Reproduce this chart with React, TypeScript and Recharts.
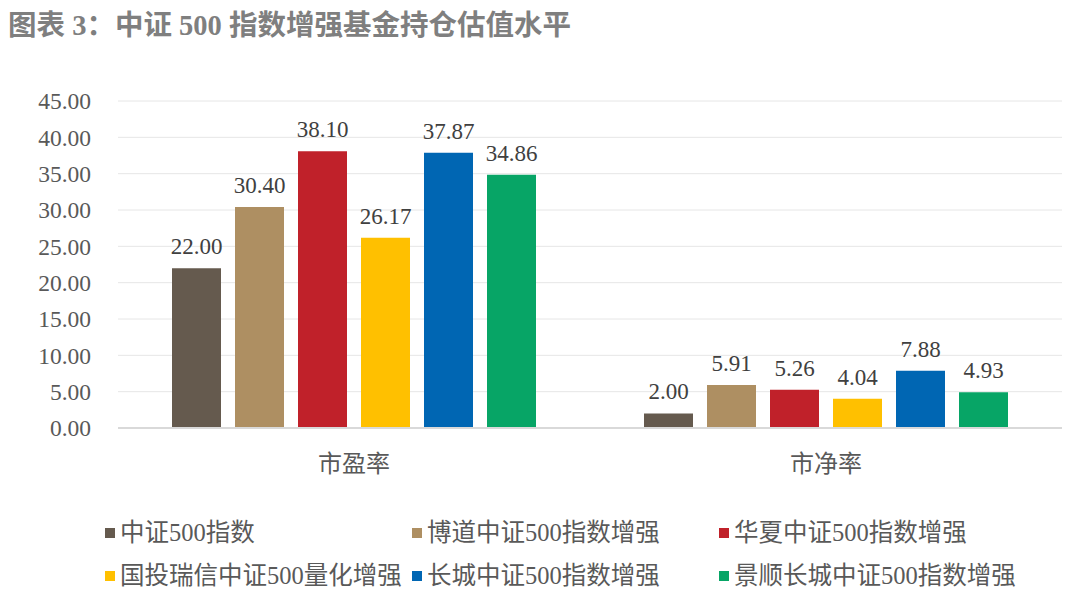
import { Bar, BarChart, CartesianGrid, LabelList, XAxis, YAxis } from "recharts";

const categories = ["市盈率", "市净率"];
const seriesNames = [
  "中证500指数",
  "博道中证500指数增强",
  "华夏中证500指数增强",
  "国投瑞信中证500量化增强",
  "长城中证500指数增强",
  "景顺长城中证500指数增强",
];
const csi500 = [22.0, 2.0];
const bodao = [30.4, 5.91];
const huaxia = [38.1, 5.26];
const guotou = [26.17, 4.04];
const changcheng = [37.87, 7.88];
const jingshun = [34.86, 4.93];
const yTicks = [0, 5, 10, 15, 20, 25, 30, 35, 40, 45];

const seriesValues = [csi500, bodao, huaxia, guotou, changcheng, jingshun];
const colors = ["#655A4E", "#AE8F62", "#C0212A", "#FFC000", "#0066B3", "#07A566"];

const data = categories.map((name, i) => {
  const row: Record<string, string | number> = { name };
  seriesNames.forEach((s, j) => {
    row[s] = seriesValues[j][i];
  });
  return row;
});

const font = '"Liberation Serif", "Noto Sans CJK SC", serif';

export default function App() {
  return (
    <div
      style={{
        position: "absolute",
        left: 0,
        top: 0,
        width: 1079,
        height: 609,
        background: "#fff",
        fontFamily: font,
      }}
    >
      <div
        style={{
          position: "absolute",
          left: 8,
          top: 9,
          fontSize: 28.5,
          fontWeight: "bold",
          color: "#7F7F7F",
          lineHeight: "34px",
          whiteSpace: "nowrap",
        }}
      >
        图表 3：中证 500 指数增强基金持仓估值水平
      </div>
      <BarChart
        width={1079}
        height={500}
        data={data}
        margin={{ top: 101, right: 17, left: 0, bottom: 0 }}
        barCategoryGap={54}
        barGap={14}
        style={{ position: "absolute", left: 0, top: 0 }}
      >
        <CartesianGrid vertical={false} stroke="#E6E6E6" />
        <XAxis
          dataKey="name"
          height={72}
          tickLine={false}
          tickSize={0}
          tickMargin={27}
          axisLine={{ stroke: "#D9D9D9", strokeWidth: 2 }}
          tick={{ fill: "#595959", fontSize: 24, fontFamily: font }}
        />
        <YAxis
          width={118}
          domain={[0, 45]}
          ticks={yTicks}
          interval={0}
          tickFormatter={(v: number) => v.toFixed(2)}
          axisLine={false}
          tickLine={false}
          tickSize={0}
          tickMargin={27}
          tick={{ fill: "#595959", fontSize: 23.5, fontFamily: font }}
        />
        {seriesNames.map((s, j) => (
          <Bar key={s} dataKey={s} fill={colors[j]} isAnimationActive={false}>
            <LabelList
              dataKey={s}
              position="top"
              offset={14}
              formatter={(v: number) => Number(v).toFixed(2)}
              style={{ fill: "#404040", fontSize: 23, fontFamily: font }}
            />
          </Bar>
        ))}
      </BarChart>
      <div
        style={{
          position: "absolute",
          left: 105,
          top: 516,
          width: 960,
          display: "grid",
          gridTemplateColumns: "307px 307px 340px",
          rowGap: 9,
          fontSize: 24.5,
          color: "#595959",
          lineHeight: "34px",
        }}
      >
        {seriesNames.map((s, j) => (
          <div key={s} style={{ display: "flex", alignItems: "center", whiteSpace: "nowrap" }}>
            <span
              style={{
                display: "inline-block",
                width: 10,
                height: 10,
                background: colors[j],
                marginRight: 5,
              }}
            />
            {s}
          </div>
        ))}
      </div>
    </div>
  );
}
